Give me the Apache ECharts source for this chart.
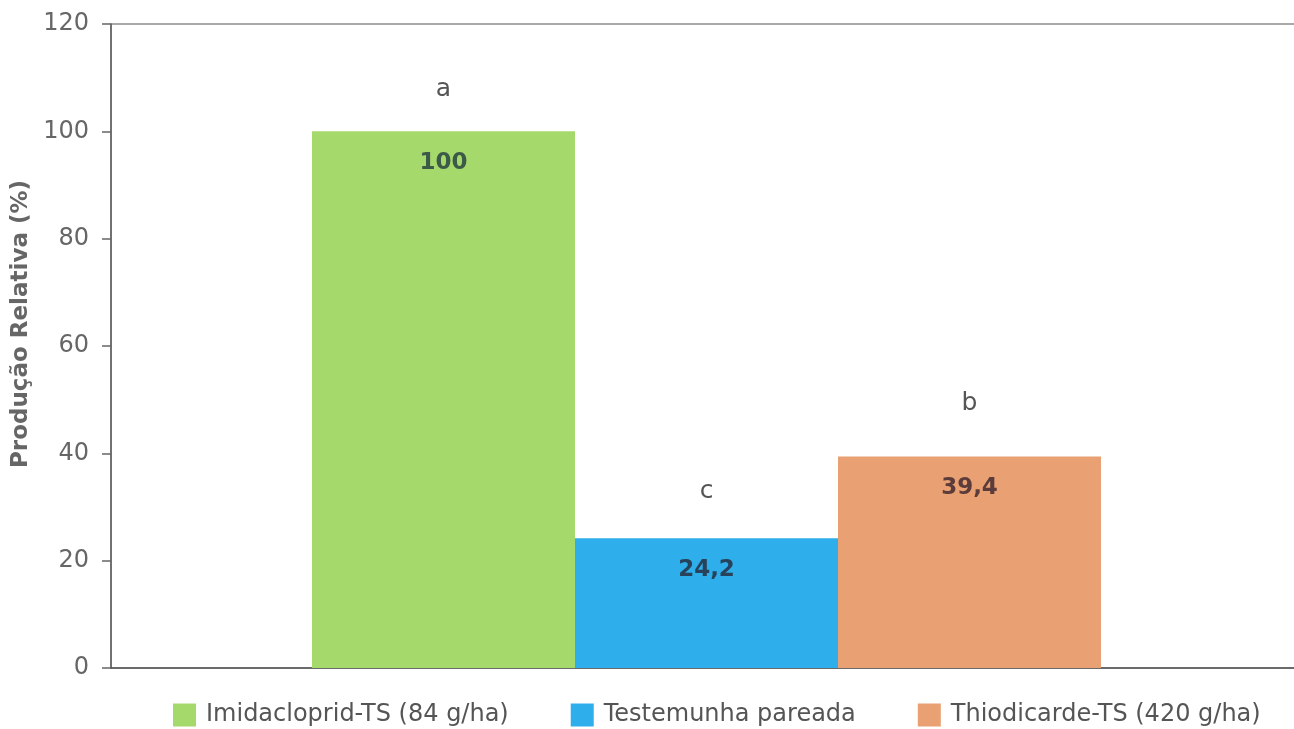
<!DOCTYPE html>
<html>
<head>
<meta charset="utf-8">
<script src="https://cdn.jsdelivr.net/npm/echarts@6/dist/echarts.min.js"></script>
<style>
  html, body { margin: 0; padding: 0; background: #fff; }
  #chart { width: 1294px; height: 729px; }
</style>
</head>
<body>
<div id="chart"></div>
<script>
// Relative yield per seed treatment
const treatments = ['Imidacloprid-TS (84 g/ha)', 'Testemunha pareada', 'Thiodicarde-TS (420 g/ha)'];
const values = [100, 24.2, 39.4];
const valueLabels = ['100', '24,2', '39,4'];
const groupLetters = ['a', 'c', 'b'];
const yTicks = [0, 20, 40, 60, 80, 100, 120];

const barColors = ['#a6d96c', '#2eaeea', '#e9a072'];
const valueLabelColors = ['#3d5a48', '#27425a', '#5c3c3a'];
// gap between each bar top and its significance letter
const letterGaps = [29, 34, 41];

const chart = echarts.init(document.getElementById('chart'));

const series = treatments.map((name, i) => ({
  name: name,
  type: 'bar',
  barWidth: 263,
  barGap: '0%',
  itemStyle: { color: barColors[i] },
  data: [values[i]],
  label: {
    show: true,
    position: 'insideTop',
    distance: 20,
    formatter: () => valueLabels[i],
    fontFamily: 'DejaVu Sans',
    fontWeight: 'bold',
    fontSize: 23,
    color: valueLabelColors[i]
  },
  markPoint: {
    symbol: 'circle',
    symbolSize: 0,
    silent: true,
    data: [{ coord: [0, values[i]] }],
    label: {
      show: true,
      position: 'top',
      distance: letterGaps[i],
      formatter: () => groupLetters[i],
      fontFamily: 'DejaVu Sans',
      fontSize: 25,
      color: '#555'
    }
  }
}));

chart.setOption({
  animation: false,
  backgroundColor: '#fff',
  grid: {
    left: 111, top: 24, bottom: 61, width: 1191,
    outerBoundsMode: 'none',
    show: true, borderColor: '#555', borderWidth: 1.2, backgroundColor: 'transparent'
  },
  legend: {
    bottom: -3,
    left: 168,
    itemWidth: 23,
    itemHeight: 23,
    itemGap: 62,
    icon: 'rect',
    textStyle: { fontFamily: 'DejaVu Sans', fontSize: 24, color: '#555', padding: [0, 0, 0, 5] },
    data: treatments
  },
  xAxis: {
    type: 'category',
    data: [''],
    axisLine: { lineStyle: { color: '#555', width: 1.5 } },
    axisTick: { show: false },
    axisLabel: { show: false },
    splitLine: { show: false }
  },
  yAxis: {
    type: 'value',
    min: 0,
    max: 120,
    interval: 20,
    name: 'Produção Relativa (%)',
    nameLocation: 'middle',
    nameGap: 74,
    nameTextStyle: {
      fontFamily: 'DejaVu Sans',
      fontWeight: 'bold',
      fontSize: 23,
      color: '#666',
      padding: [0, 0, 0, 44]
    },
    axisLine: { show: true, lineStyle: { color: '#666', width: 1.5 } },
    axisTick: { show: true, length: 9, lineStyle: { color: '#666', width: 1.5 } },
    axisLabel: {
      margin: 22,
      fontFamily: 'DejaVu Sans',
      fontSize: 24,
      color: '#666',
      formatter: (v) => (yTicks.includes(v) ? String(v) : '')
    },
    splitLine: { show: false }
  },
  series: series
});
</script>
</body>
</html>
